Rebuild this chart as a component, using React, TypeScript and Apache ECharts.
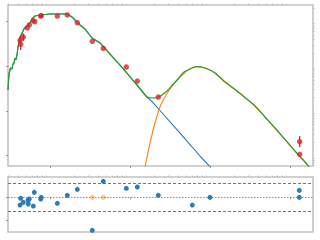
import React, { useEffect, useRef } from "react";
import * as echarts from "echarts";

// Wavelength (micron) and nu*F_nu (arbitrary units)
const stellarX = [0.2985, 0.307, 0.321, 0.335, 0.345, 0.355, 0.365, 0.376, 0.387, 0.398, 0.41, 0.422, 0.447, 0.473, 0.501, 0.531, 0.562, 0.596, 0.649, 0.75, 0.866, 1, 1.155, 1.334, 1.54, 1.679, 1.884, 2.113, 2.371, 2.738, 3.35, 4.217, 5.623, 7.499, 8.913, 12.23, 16.31, 18.84, 23.71, 42.17, 74.99, 115.5];
const stellarY = [0.0296, 0.0675, 0.0919, 0.0873, 0.113, 0.119, 0.154, 0.139, 0.18, 0.271, 0.351, 0.432, 0.558, 0.686, 0.761, 0.844, 0.935, 1.149, 1.341, 1.413, 1.45, 1.487, 1.487, 1.487, 1.487, 1.45, 1.274, 1.037, 0.844, 0.686, 0.432, 0.334, 0.189, 0.107, 0.0748, 0.0383, 0.0206, 0.0163, 0.01028, 0.00322, 0.000985, 0.000432];

const dustX = [15.4, 17.78, 20.54, 23.71, 27.38, 31.62, 36.52, 42.17, 48.7, 56.23, 66.83, 86.6, 115.5, 154.0, 205.4, 273.8, 365.2, 486.9, 649.4, 866.0, 1155, 1540, 1778];
const dustY = [0.000559, 0.001925, 0.0054, 0.01232, 0.0206, 0.0311, 0.0435, 0.0578, 0.0729, 0.0873, 0.0983, 0.0919, 0.071, 0.0447, 0.0303, 0.0201, 0.01297, 0.00735, 0.00417, 0.00231, 0.00127, 0.000723, 0.000531];

// total model: stellar-dominated part (noisy, drawn as is) and the smooth far-IR part
const totalLeftX = [0.2985, 0.307, 0.321, 0.335, 0.345, 0.355, 0.365, 0.376, 0.387, 0.398, 0.41, 0.422, 0.447, 0.473, 0.501, 0.531, 0.562, 0.596, 0.649, 0.75, 0.866, 1, 1.155, 1.334, 1.54, 1.679, 1.884, 2.113, 2.371, 2.738, 3.35, 4.217, 5.623, 7.499, 8.913, 12.23, 16.31];
const totalLeftY = [0.0296, 0.0675, 0.0919, 0.0873, 0.113, 0.119, 0.154, 0.139, 0.18, 0.271, 0.351, 0.432, 0.558, 0.686, 0.761, 0.844, 0.935, 1.149, 1.341, 1.413, 1.45, 1.487, 1.487, 1.487, 1.487, 1.45, 1.274, 1.037, 0.844, 0.686, 0.432, 0.334, 0.189, 0.107, 0.0748, 0.0383, 0.0206];
const totalRightX = [12.23, 16.31, 18.84, 21.75, 25.12, 29.0, 33.5, 39.81, 47.32, 56.23, 66.83, 86.6, 115.5, 154.0, 205.4, 273.8, 365.2, 486.9, 649.4, 866.0, 1155, 1540, 1778];
const totalRightY = [0.0383, 0.0206, 0.0196, 0.0201, 0.02286, 0.0281, 0.0373, 0.0522, 0.0748, 0.0873, 0.0983, 0.0919, 0.071, 0.0447, 0.0303, 0.0201, 0.01297, 0.00735, 0.00417, 0.00231, 0.00127, 0.000723, 0.000531];

const photX = [0.422, 0.43, 0.464, 0.52, 0.551, 0.618, 0.644, 0.765, 0.778, 1.234, 1.645, 2.194, 3.379, 4.638, 8.993, 12.34, 22.59, 1322, 1322];
const photY = [0.384, 0.309, 0.454, 0.723, 0.844, 1.053, 1.0, 1.341, 1.362, 1.341, 1.413, 0.95, 0.364, 0.254, 0.0968, 0.047, 0.0206, 0.00206, 0.001075];

const errX = [0.422, 0.43, 0.464, 1322];
const errLo = [0.317, 0.232, 0.37, 0.00154];
const errHi = [0.478, 0.389, 0.544, 0.00276];

const resX = [0.43, 0.422, 0.464, 0.531, 0.551, 0.535, 0.618, 0.636, 0.765, 0.778, 1.234, 1.645, 2.194, 3.379, 4.638, 8.993, 12.34, 22.59, 60.09, 100, 1307, 1307];
const resY = [-0.21, -1.65, -1.07, -0.58, -0.36, -1.43, -1.86, 1.07, -0.36, 0, -1.28, 0.43, 1.71, -7.07, 3.43, 1.93, 2.21, 0.43, -1.65, 0, 1.5, 0];

const resFixedX = [3.379, 4.638];
const resFixedY = [0, 0];

const xMajorTicks = [1, 10, 100, 1000];
const xMinorTicks = [0.3, 0.4, 0.5, 0.6, 0.7, 0.8, 0.9, 2, 3, 4, 5, 6, 7, 8, 9, 20, 30, 40, 50, 60, 70, 80, 90, 200, 300, 400, 500, 600, 700, 800, 900];
const yMajorTicks = [0.001, 0.01, 0.1, 1];
const yMinorTicks = [0.0006, 0.0007, 0.0008, 0.0009, 0.002, 0.003, 0.004, 0.005, 0.006, 0.007, 0.008, 0.009, 0.02, 0.03, 0.04, 0.05, 0.06, 0.07, 0.08, 0.09, 0.2, 0.3, 0.4, 0.5, 0.6, 0.7, 0.8, 0.9, 2];
const resTicks = [-5, 0];
const sigmaLevels = [3, -3];

const X_MIN = 0.2985;
const X_MAX = 1939;
const Y_MIN = 0.0005885;
const Y_MAX = 2.365;
const R_MIN = -7.42;
const R_MAX = 4.36;

const zip = (a: number[], b: number[]) => a.map((v, i) => [v, b[i]]);

function logX(grid: number, ticks: number[], len: number, color: string) {
  return {
    gridIndex: grid,
    type: "log",
    min: X_MIN,
    max: X_MAX,
    axisLine: { show: false },
    axisLabel: { show: false },
    splitLine: { show: false },
    axisTick: { show: true, inside: false, length: len, customValues: ticks, lineStyle: { color, width: 1 } },
  };
}

function logY(ticks: number[], len: number, color: string) {
  return {
    gridIndex: 0,
    type: "log",
    min: Y_MIN,
    max: Y_MAX,
    axisLine: { show: false },
    axisLabel: { show: false },
    splitLine: { show: false },
    axisTick: { show: true, inside: false, length: len, customValues: ticks, lineStyle: { color, width: 1 } },
  };
}

function modelLine(x: number[], y: number[], color: string, width: number, z: number, smooth: number | boolean) {
  return {
    type: "line",
    xAxisIndex: 0,
    yAxisIndex: 0,
    data: zip(x, y),
    showSymbol: false,
    symbol: "none",
    smooth,
    lineStyle: { color, width },
    z,
  };
}

export default function App() {
  const ref = useRef<HTMLDivElement>(null);
  useEffect(() => {
    if (!ref.current) return;
    const chart = echarts.init(ref.current, null, { renderer: "svg" });
    const frame = { show: true, borderColor: "#c2c2c2", borderWidth: 1.6, backgroundColor: "transparent" };
    chart.setOption({
      animation: false,
      grid: [
        { left: 8, right: 7, top: 5, height: 161, ...frame },
        { left: 8, right: 7, top: 177, height: 55, ...frame },
      ],
      xAxis: [
        logX(0, xMajorTicks, 2, "#999"),
        logX(0, xMinorTicks, 1.5, "#bbb"),
        logX(1, xMajorTicks, 2, "#999"),
        logX(1, xMinorTicks, 1.5, "#bbb"),
      ],
      yAxis: [
        logY(yMajorTicks, 2, "#999"),
        logY(yMinorTicks, 1.5, "#bbb"),
        {
          gridIndex: 1,
          type: "value",
          min: R_MIN,
          max: R_MAX,
          axisLine: { show: false },
          axisLabel: { show: false },
          splitLine: { show: false },
          axisTick: { show: true, inside: false, length: 2, customValues: resTicks, lineStyle: { color: "#999" } },
        },
      ],
      series: [
        modelLine(stellarX, stellarY, "#1f77b4", 1.1, 2, false),
        modelLine(dustX, dustY, "#ff7f0e", 1.1, 3, 0.3),
        modelLine(totalLeftX, totalLeftY, "#2ca02c", 1.2, 4, false),
        modelLine(totalRightX, totalRightY, "#2ca02c", 1.2, 4, 0.3),
        {
          type: "custom",
          xAxisIndex: 0,
          yAxisIndex: 0,
          data: errX.map((x, i) => [x, errLo[i], errHi[i]]),
          encode: { x: 0, y: [1, 2] },
          renderItem: (params: any, api: any) => {
            const a = api.coord([api.value(0), api.value(1)]);
            const b = api.coord([api.value(0), api.value(2)]);
            return {
              type: "line",
              shape: { x1: a[0], y1: a[1], x2: b[0], y2: b[1] },
              style: { stroke: "#d62728", lineWidth: 1.3 },
            };
          },
          z: 5,
        },
        {
          type: "scatter",
          xAxisIndex: 0,
          yAxisIndex: 0,
          data: zip(photX, photY),
          symbolSize: 5.5,
          itemStyle: { color: "#d62728" },
          z: 6,
        },
        {
          type: "scatter",
          xAxisIndex: 2,
          yAxisIndex: 2,
          data: zip(resFixedX, resFixedY),
          symbolSize: 5,
          itemStyle: { color: "#ff7f0e", opacity: 0.45 },
          z: 3,
          markLine: {
            silent: true,
            symbol: "none",
            label: { show: false },
            data: [
              ...sigmaLevels.map((v) => ({ yAxis: v, lineStyle: { type: [3, 2], color: "#3f80bf", width: 1 } })),
              { yAxis: 0, lineStyle: { type: [1.5, 1.5], color: "#4a84bb", width: 1, opacity: 0.85 } },
            ],
          },
        },
        {
          type: "scatter",
          xAxisIndex: 2,
          yAxisIndex: 2,
          data: zip(resX, resY),
          symbolSize: 5,
          itemStyle: { color: "#1f77b4", opacity: 0.95 },
          z: 5,
        },
      ],
    });
    return () => chart.dispose();
  }, []);
  return <div ref={ref} style={{ position: "absolute", left: 0, top: 0, width: 320, height: 240 }} />;
}
